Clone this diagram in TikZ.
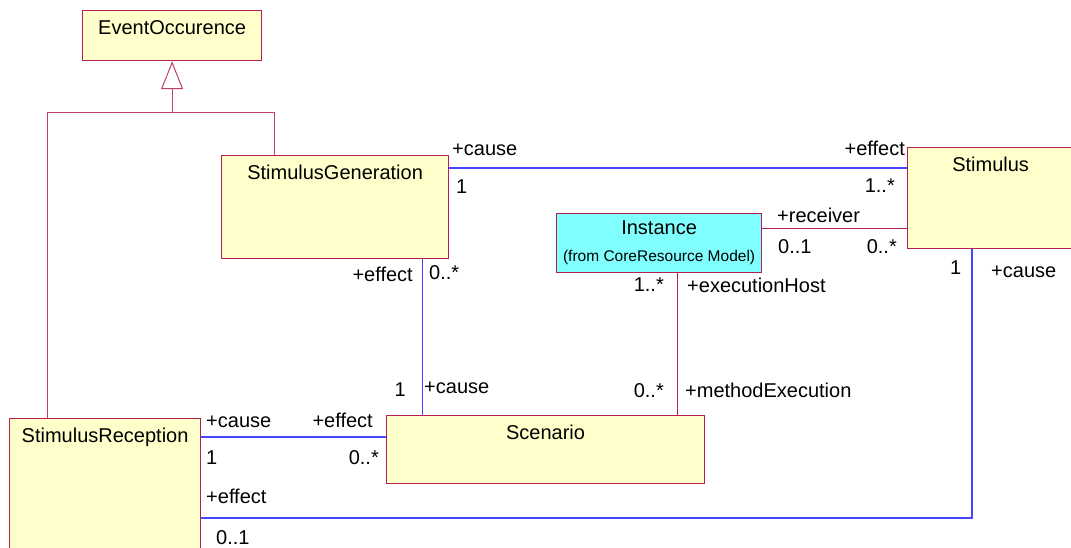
\documentclass[tikz,border=0pt]{standalone}
\usepackage{fontspec}
\setmainfont{Liberation Sans}
\usetikzlibrary{arrows.meta}

\definecolor{umlred}{RGB}{180,30,80}
\definecolor{umlyellow}{RGB}{255,255,204}
\definecolor{umlcyan}{RGB}{128,255,255}
\definecolor{umlblue}{RGB}{70,70,255}

\begin{document}
\begin{tikzpicture}[x=1pt,y=-1pt,font=\fontsize{20}{24}\selectfont]
  \tikzstyle{box}=[draw=umlred,fill=umlyellow,line width=1.2pt,inner sep=0pt,anchor=north west]
  \tikzstyle{class}=[box,text height=24pt]
  \tikzstyle{assoc}=[umlblue,line width=1.2pt]
  \tikzstyle{link}=[umlred,line width=1pt]
  \tikzstyle{inherit}=[umlred!85,line width=1pt]
  \tikzstyle{role}=[inner sep=0pt]

  \useasboundingbox (0,0) rectangle (1071,548);
  \clip (0,0) rectangle (1071,548);

  % classes
  \node[class,minimum width=179pt,text depth=26pt] (ev)   at (82,10)   {EventOccurence};
  \node[class,minimum width=227pt,text depth=79pt] (gen)  at (221,155) {StimulusGeneration};
  \node[class,minimum width=166pt,text depth=77pt] (stim) at (907,147) {Stimulus};
  \node[box,fill=umlcyan,minimum width=205pt,minimum height=59pt,align=center] (inst) at (556,213)
       {Instance\\[3pt]{\fontsize{15.5}{18}\selectfont(from CoreResource Model)}};
  \node[class,minimum width=318pt,text depth=44pt] (scen) at (386,415) {Scenario};
  \node[class,minimum width=191pt,text depth=126pt] (rec) at (9,418)   {StimulusReception};

  % generalization
  \coordinate (joint) at ([yshift=-51pt]ev.south);
  \draw[inherit,-{Triangle[open,length=28pt,width=22pt]}] (joint) -- (ev.south);
  \draw[inherit] ([xshift=53pt]gen.north west) |- (joint);
  \draw[inherit] ([xshift=38pt]rec.north west) |- (joint);

  % associations
  \draw[assoc] ([yshift=-13pt]gen.north east) -- ([yshift=-13pt]gen.north east -| stim.west);
  \draw[link]  ([yshift=-16pt]inst.north east) -- ([yshift=-16pt]inst.north east -| stim.west);
  \draw[assoc] ([xshift=-27pt]gen.south east) -- ([xshift=-27pt]gen.south east |- scen.north);
  \draw[link]  ([xshift=-85pt]inst.south east) -- ([xshift=-85pt]inst.south east |- scen.north);
  \draw[assoc] ([yshift=-19pt]rec.north east) -- ([yshift=-19pt]rec.north east -| scen.west);
  \draw[assoc] ([xshift=65pt]stim.south west) |- ([yshift=-100pt]rec.north east);

  % roles and multiplicities
  \node[role,anchor=base west] (gcause)  at (452,156) {+cause};
  \node[role,anchor=base west] (gone)    at (456,194) {1};
  \node[role,anchor=base east] (seffect) at (905,156) {+effect};
  \node[role,anchor=base east] (smany)   at (895,193) {1..*};
  \node[role,anchor=base west] (irecv)   at (777,223) {+receiver};
  \node[role,anchor=base west] (iopt)    at (778,254) {0..1};
  \node[role,anchor=base east] (srecv)   at (897,254) {0..*};
  \node[role,anchor=base west] (sone)    at (950,274) {1};
  \node[role,anchor=base west] (scause)  at (991,277) {+cause};
  \node[role,anchor=base east] (geffect) at (413,281) {+effect};
  \node[role,anchor=base west] (gmany)   at (429,279) {0..*};
  \node[role,anchor=base east] (ihost)   at (664,291) {1..*};
  \node[role,anchor=base west] (ihostr)  at (687,292) {+executionHost};
  \node[role,anchor=base east] (cone)    at (406,396) {1};
  \node[role,anchor=base west] (ccause)  at (424,393) {+cause};
  \node[role,anchor=base east] (cmany)   at (664,397) {0..*};
  \node[role,anchor=base west] (cmeth)   at (685,397) {+methodExecution};
  \node[role,anchor=base west] (rcause)  at (206,427) {+cause};
  \node[role,anchor=base east] (ceffect) at (373,427) {+effect};
  \node[role,anchor=base west] (rone)    at (206,464) {1};
  \node[role,anchor=base east] (cmany2)  at (379,464) {0..*};
  \node[role,anchor=base west] (reffect) at (206,503) {+effect};
  \node[role,anchor=base west] (ropt)    at (216,544) {0..1};
\end{tikzpicture}
\end{document}
